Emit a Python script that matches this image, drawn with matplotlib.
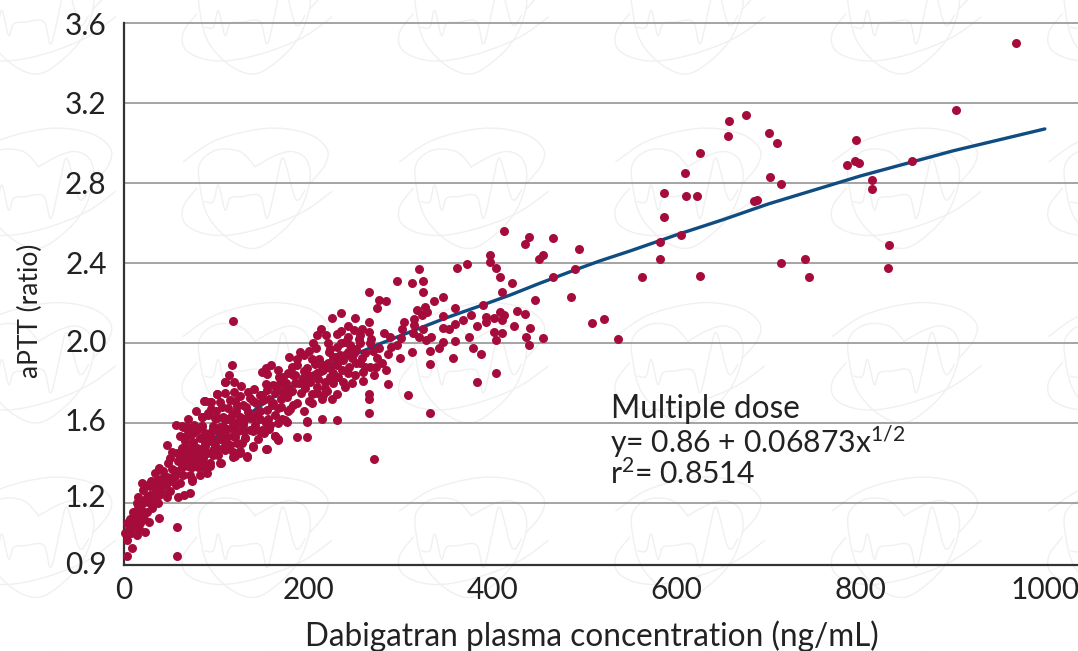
import numpy as np
import matplotlib
matplotlib.use("Agg")
import matplotlib.pyplot as plt
from matplotlib.transforms import ScaledTranslation

x_ticks = [0, 200, 400, 600, 800, 1000]
y_ticks = [0.9, 1.2, 1.6, 2.0, 2.4, 2.8, 3.2, 3.6]
grid_levels = [1.2, 1.6, 2.0, 2.4, 2.8, 3.2, 3.6]

fit_conc = [0, 10, 20, 34, 50, 75, 100, 126, 150, 173, 200, 225, 250, 278, 300, 325, 350, 390, 420, 450, 490, 517, 550, 600, 650, 700, 750, 800, 856, 900, 950, 1000]
fit_aptt = [1.02, 1.10, 1.17, 1.25, 1.33, 1.43, 1.53, 1.61, 1.69, 1.76, 1.83, 1.89, 1.94, 1.995, 2.035, 2.08, 2.125, 2.19, 2.24, 2.295, 2.365, 2.41, 2.46, 2.54, 2.615, 2.695, 2.765, 2.835, 2.905, 2.96, 3.015, 3.07]

high_points = [(968.5,3.5),(904,3.165),(676,3.14),(657,3.11),(656,3.035),(700,3.05),(709,3.0),(795,3.015),(626,2.95),(609,2.85),(701,2.83),(714,2.795),(794,2.91),(798,2.9),(785,2.89),(856,2.91),(812,2.815),(812,2.77),(586,2.75),(610,2.735),(622,2.735),(687,2.715),(684,2.71),(586,2.63),(605,2.54),(582,2.505),(582,2.42),(831,2.49),(830,2.375),(739,2.42),(714,2.4),(744,2.33),(626,2.335),(562,2.33),(494,2.47),(490,2.37),(485,2.23),(508,2.1),(521,2.12),(536,2.02)]

mid_points = [(412.7,2.56),(440,2.528),(435.5,2.493),(466,2.523),(455.4,2.441),(450.7,2.421),(397.5,2.44),(397,2.405),(403.6,2.376),(372,2.394),(361.6,2.376),(320,2.368),(408,2.328),(421.7,2.298),(466,2.328),(296.5,2.309),(312.8,2.298),(324.3,2.309),(324.3,2.253),(266,2.253),(277.3,2.216),(284.5,2.209),(275,2.172),(336.3,2.209),(346.8,2.227),(410.5,2.253),(446.3,2.216),(390,2.191),(359.8,2.172),(327.2,2.177),(318,2.166),(329.4,2.154),(324,2.137),(346.4,2.136),(315.3,2.119),(304,2.104),(315.3,2.089),(301.5,2.067),(324.7,2.067),(313.8,2.049),(320,2.029),(333.7,2.03),(327.6,2.012),(301.2,2.022),(296.8,1.99),(312.8,1.954),(332,1.96),(299.4,1.924),(332,1.895),(357,1.924),(342.4,1.972),(346.8,2.002),(359.8,2.009),(374.7,2.03),(379,1.972),(388,1.942),(404,2.012),(401.8,2.055),(410,2.049),(436.2,2.03),(439.8,1.99),(455,2.022),(440.9,2.075),(423.9,2.085),(383.7,2.085),(359.8,2.092),(346.8,2.075),(352.6,2.067),(367.8,2.114),(376.8,2.141),(392.8,2.131),(392.8,2.104),(402.2,2.124),(408.3,2.156),(413,2.137),(410,2.114),(426.4,2.161),(435.5,2.142),(404,1.847),(383.7,1.802),(308,1.738),(332,1.65),(272,1.42)]

band_points = [(284.5,1.865),(286.3,1.795),(260,1.808),(266,1.743),(266,1.72),(266,1.65),(273.3,1.878),(286.3,1.944),(275,1.922),(277.3,1.972),(267,1.997),(266,2.055),(266,2.106),(250.8,2.122),(236,2.147),(226.2,2.122),(243.6,2.085),(249.4,2.064),(214.3,2.067),(209.2,2.039),(219.7,2.039),(231.3,2.044),(243.6,2.03),(255.2,2.02),(256.3,1.997),(282.3,2.049),(288.9,2.03),(240,2.005),(231,1.979),(245.4,1.989),(204.9,1.997),(208.5,1.972),(201.3,1.96),(191,1.954),(178.8,1.93),(188.2,1.917),(188.2,1.887),(222.3,1.954),(204,1.917),(214,1.895),(198.4,1.872),(207,1.893),(234.6,1.937),(227.3,1.93),(243.6,1.955),(249.8,1.947),(258,1.922),(256.3,1.897),(247.2,1.922),(238.2,1.914),(231,1.889),(223.7,1.872),(216.5,1.863),(209.2,1.847),(200.2,1.838),(194.7,1.822),(202,1.805),(211,1.817),(218.3,1.805),(227.3,1.847),(236.4,1.863),(243.6,1.847),(250.8,1.838),(259.9,1.855),(267.1,1.88),(247.2,1.797),(238.2,1.805),(227.3,1.797),(218.3,1.772),(209.2,1.78),(196.6,1.772),(203.8,1.746),(216.5,1.738),(231,1.743),(225.5,1.721),(214.7,1.721),(201.3,1.708),(183.9,1.688),(180.3,1.671),(176.6,1.73),(185.7,1.797),(178.4,1.847),(173,1.83),(183.9,1.838),(180.3,1.756),(173,1.756),(214.7,1.621),(231.7,1.613),(198.4,1.61),(174.8,1.613)]

upper_dense_points = [(118.7,2.111),(116.9,1.889),(114,1.839),(109.7,1.802),(119.4,1.802),(127,1.784),(159.3,1.889),(154.2,1.873),(150.2,1.853),(155.6,1.844),(166.9,1.864),(154.2,1.794),(162.2,1.79),(169.4,1.797),(100.6,1.742),(109.7,1.751),(119.4,1.756),(126,1.734),(135,1.756),(141.2,1.767),(147.7,1.739),(155.6,1.764),(164,1.747),(86.9,1.711),(94.1,1.706),(104.2,1.706),(115.1,1.714),(106,1.677),(113.3,1.672),(122.3,1.684),(129.6,1.689),(136.8,1.722),(143.3,1.697),(151.3,1.714),(160.4,1.689),(167.6,1.672),(135,1.656),(145.9,1.656),(155.6,1.664),(164,1.639),(84.3,1.627),(91.6,1.639),(98.8,1.622),(107.9,1.63),(116.9,1.639),(126,1.63),(136.8,1.622),(147.7,1.617),(158.5,1.589),(167.6,1.597),(84.3,1.584),(97,1.584),(107.9,1.58),(118.7,1.597),(129.6,1.589),(136.8,1.564),(147.7,1.56),(164,1.534),(166.9,1.517),(154.2,1.469),(139.7,1.479),(131.4,1.522),(120.5,1.53),(109.7,1.539),(95.2,1.56),(68,1.577),(62.6,1.584),(75.3,1.547),(86.1,1.53),(64.4,1.53),(97,1.514),(109.7,1.505),(122.3,1.497),(88,1.497),(75.3,1.505),(66.2,1.48),(78.9,1.472),(97,1.464),(107.9,1.472),(118.7,1.455),(126,1.45),(133.2,1.43),(118.7,1.43),(104.2,1.397),(93.4,1.397),(86.1,1.422),(71.7,1.43),(64.4,1.422),(86.1,1.38),(77.1,1.397),(66.2,1.397)]

low_points = [(3.6,0.935),(58,0.935),(58,1.08),(37.6,1.125),(27.5,1.105),(22.4,1.055),(8.3,0.972),(2.9,1.013),(13.8,1.038),(7.2,1.047),(1.1,1.047),(2.9,1.097),(10.1,1.08),(17.4,1.097),(12,1.114),(19.2,1.13),(10.1,1.155),(24.6,1.155),(15.6,1.172),(30,1.172),(19.2,1.197),(26.4,1.205),(37.3,1.197),(15.6,1.227),(24.6,1.23),(33.7,1.247),(47,1.227),(59,1.227),(65.2,1.239),(71.7,1.247),(19.2,1.297),(21,1.264),(28.2,1.281),(39.1,1.281),(50,1.256),(60.8,1.297),(73.5,1.306),(29,1.306),(35.5,1.314),(44.5,1.322),(55.4,1.331),(71.7,1.339),(33.7,1.347),(42.7,1.356),(51.8,1.367),(62.6,1.377),(82.5,1.339),(89.8,1.347),(38.4,1.372),(48.2,1.397),(59,1.406),(69.9,1.384),(80.7,1.377),(50,1.422),(60.8,1.439),(71.7,1.422),(84.4,1.406),(93.4,1.384),(105,1.397),(51.8,1.451),(62.6,1.473),(73.5,1.456),(84.4,1.439),(97,1.439),(46.3,1.489),(66.2,1.506),(75.3,1.489),(88,1.481),(98.8,1.489),(109.7,1.464),(120.5,1.434),(133.2,1.431),(126,1.456),(140.5,1.481),(155,1.469),(60.8,1.531),(71.7,1.539),(82.5,1.523),(93.4,1.531),(104.3,1.518),(115.1,1.489),(127.8,1.498),(131.4,1.523),(56.1,1.59),(63.7,1.581),(69.9,1.556),(78.9,1.564),(88,1.548),(97,1.564),(107.9,1.539),(118.7,1.531),(84.4,1.631),(91.6,1.648),(100.6,1.623),(109.7,1.615),(84.4,1.585),(104.3,1.581),(116.9,1.573),(129.6,1.598),(140.5,1.556),(149.5,1.565),(164,1.531),(167.6,1.514),(188.2,1.528),(198.4,1.528),(198.4,1.603),(176.7,1.603),(88,1.711),(93.4,1.706),(100.6,1.745),(109.7,1.802)]

extra_dense_points = [(6,1.12),(14,1.14),(20,1.16),(22,1.21),(28,1.24),(14,1.2),(30,1.22),(26,1.29),(34,1.28),(40,1.32),(47,1.33),(52,1.31),(42,1.25),(56,1.36),(66,1.41),(74,1.38),(78,1.43),(68,1.46),(58,1.45),(82,1.47),(90,1.45),(100,1.47),(92,1.51),(104,1.55),(112,1.57),(124,1.56),(130,1.62),(122,1.66),(140,1.63),(148,1.66),(156,1.62),(162,1.7),(170,1.72),(176,1.78),(182,1.76),(190,1.8),(196,1.79),(206,1.84),(214,1.86),(222,1.9),(230,1.93),(240,1.94),(252,1.97),(262,1.95),(270,1.96),(196,1.86),(186,1.84),(176,1.8),(166,1.77),(150,1.74),(140,1.71),(232,1.83),(244,1.88),(224,1.97),(236,2.0),(256,2.04),
    (145,1.52),(152,1.55),(158,1.57),(172,1.62),(178,1.66),(188,1.7),(195,1.66),(204,1.7),(210,1.75),(192,1.75),(170,1.68),(154,1.6),(142,1.59),(130,1.56),(122,1.6),(112,1.62),(100,1.66),(94,1.67),(76,1.59),(70,1.62),(78,1.66),(112,1.53),(102,1.44),(86,1.46),(74,1.32),(64,1.34),(56,1.29),(46,1.29),(38,1.24),(32,1.19),(22,1.12),(10,1.13),(5,1.07),(16,1.07),(252,1.9),(262,1.88),(272,1.84),(280,1.9),(290,1.98),(268,2.02),(258,2.07),(236,2.06),(222,2.0),(212,1.92),(196,1.94),(182,1.88),(168,1.83),(158,1.72),(132,1.68),(120,1.71),(224,1.83),(240,1.78),(220,1.76)]

all_points = high_points + mid_points + band_points + upper_dense_points + low_points + extra_dense_points
conc = [p[0] for p in all_points]
aptt = [p[1] for p in all_points]

FONT = "Lato"
plt.rcParams["font.family"] = FONT
plt.rcParams["mathtext.fontset"] = "custom"
plt.rcParams["mathtext.rm"] = FONT
plt.rcParams["mathtext.default"] = "rm"

W, H = 1078, 651
fig = plt.figure(figsize=(W / 100, H / 100), dpi=100, facecolor="white")

bg = fig.add_axes([0, 0, 1, 1], zorder=0)
bg.set_xlim(0, W)
bg.set_ylim(H, 0)
bg.axis("off")


def smooth(pts, n=12):
    p = np.array(pts, dtype=float)
    p = np.vstack([p[0], p, p[-1]])
    out = []
    t = np.linspace(0, 1, n)[:, None]
    for i in range(1, len(p) - 2):
        a, b, c, d = p[i - 1], p[i], p[i + 1], p[i + 2]
        out.append(0.5 * (2 * b + (c - a) * t + (2 * a - 5 * b + 4 * c - d) * t**2 + (3 * b - a - 3 * c + d) * t**3))
    return np.vstack(out)


heart = [(315,140),(270,95),(200,90),(150,130),(150,200),(175,290),(240,360),(315,385),(390,340),(450,270),(480,180),(470,120),(430,95),(380,105),(315,140)]
swoosh_top = [(100,125),(200,60),(350,25),(470,40),(530,85),(525,135),(480,190)]
swoosh_low = [(140,205),(100,260),(105,310),(160,340),(240,345),(350,320),(460,275),(545,215)]
ecg = [(165,245),(190,245),(205,195),(225,270),(240,235),(275,230),(330,228),(352,295),(380,180),(400,115),(430,220),(445,240),(465,210)]
for ox in np.arange(-4, 6) * 216.4:
    for oy in np.arange(-1, 4) * 174.5:
        for shape in (heart, swoosh_top, swoosh_low, ecg):
            s = smooth(shape) / 3.0
            bg.plot(s[:, 0] + 150 + ox, s[:, 1] + 120 + oy, color="#f0f0f0", lw=1.0, zorder=0)

left, right = 124 / W, 1.0
bottom, top = (H - 565) / H, (H - 23) / H
ax = fig.add_axes([left, bottom, right - left, top - bottom], zorder=1)
ax.patch.set_alpha(0)
ax.set_xlim(0, 1036)
ax.set_ylim(0.888, 3.6)

for lv in grid_levels:
    ax.axhline(lv, color="#8c8c8c", lw=1.1, zorder=1, clip_on=False)

ax.plot(fit_conc, fit_aptt, color="#0f4c81", lw=2.4, zorder=2, solid_capstyle="round")
ax.scatter(conc, aptt, s=42, color="#a50b3b", linewidths=0, zorder=3, clip_on=False)

for side in ("top", "right"):
    ax.spines[side].set_visible(False)
for side in ("left", "bottom"):
    ax.spines[side].set_color("#333333")
    ax.spines[side].set_linewidth(1.6)

ax.set_xticks(x_ticks)
ax.set_xticklabels([str(v) for v in x_ticks])
ax.set_yticks(y_ticks)
ax.set_yticklabels([f"{v:.1f}" for v in y_ticks])
ax.tick_params(axis="both", length=0, labelsize=21.5, colors="#222222")
ax.tick_params(axis="x", pad=8)
ax.tick_params(axis="y", pad=12.5)

# the reference sets a few y labels slightly above their gridlines
label_shift = {"1.2": 7, "1.6": 3, "2.0": 2}
for lab in ax.get_yticklabels():
    up = label_shift.get(lab.get_text(), 0)
    if up:
        lab.set_transform(lab.get_transform() + ScaledTranslation(0, up / 72 * 0.72, fig.dpi_scale_trans))

fig.text(592 / W, 1 - 636 / H, "Dabigatran plasma concentration (ng/mL)", ha="center", va="center",
         fontsize=22.7, color="#222222")
fig.text(30 / W, 1 - 311 / H, "aPTT (ratio)", rotation=90, ha="center", va="center",
         fontsize=19, color="#222222")
fig.text(611 / W, 1 - 409 / H, "Multiple dose", ha="left", va="center", fontsize=22.7, color="#222222")
fig.text(610 / W, 1 - 442 / H, "y= 0.86 + 0.06873x$^{1/2}$", ha="left", va="center", fontsize=21.7, color="#222222")
fig.text(610 / W, 1 - 474 / H, "r$^{2}$= 0.8514", ha="left", va="center", fontsize=21.7, color="#222222")

fig.savefig("out.png", dpi=100)
